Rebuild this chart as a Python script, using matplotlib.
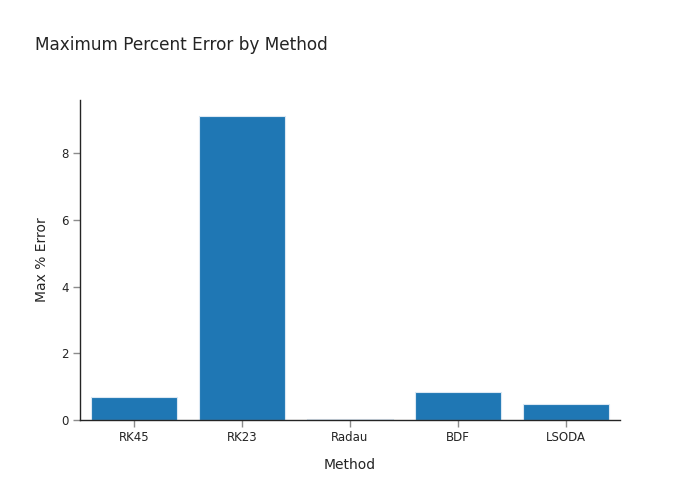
import matplotlib
matplotlib.use("Agg")
import matplotlib.pyplot as plt

methods = ["RK45", "RK23", "Radau", "BDF", "LSODA"]
max_err = [0.70, 9.11, 0.015, 0.84, 0.48]

txt = "#242424"
plt.rcParams['font.family'] = ['DejaVu Sans']

fig = plt.figure(figsize=(7, 5), dpi=100)
ax = fig.add_axes([80 / 700, 80 / 500, 540 / 700, 320 / 500])

x = range(len(methods))
ax.bar(x, max_err, width=0.8, color="#1f77b4", edgecolor="#dbe8f3", linewidth=0.8)

ax.set_xlim(-0.5, len(methods) - 0.5)
ax.set_ylim(0, max(max_err) * 1.053)
ax.set_xticks(list(x))
ax.set_xticklabels(methods)
ax.set_yticks([0, 2, 4, 6, 8])

for s in ["top", "right"]:
    ax.spines[s].set_visible(False)
for s in ["left", "bottom"]:
    ax.spines[s].set_color("#242424")
    ax.spines[s].set_linewidth(1)

ax.tick_params(axis="both", direction="out", length=5, width=1, color="#8c8c8c",
               labelsize=8.5, labelcolor=txt, pad=3)

ax.set_xlabel("Method", fontsize=10, color=txt, labelpad=10)
ax.set_ylabel("Max % Error", fontsize=10, color=txt, labelpad=9)

fig.text(35 / 700, 1 - 45 / 500, "Maximum Percent Error by Method", fontsize=12.2,
         color=txt, va="center", ha="left")

fig.savefig("out.png", dpi=100)
